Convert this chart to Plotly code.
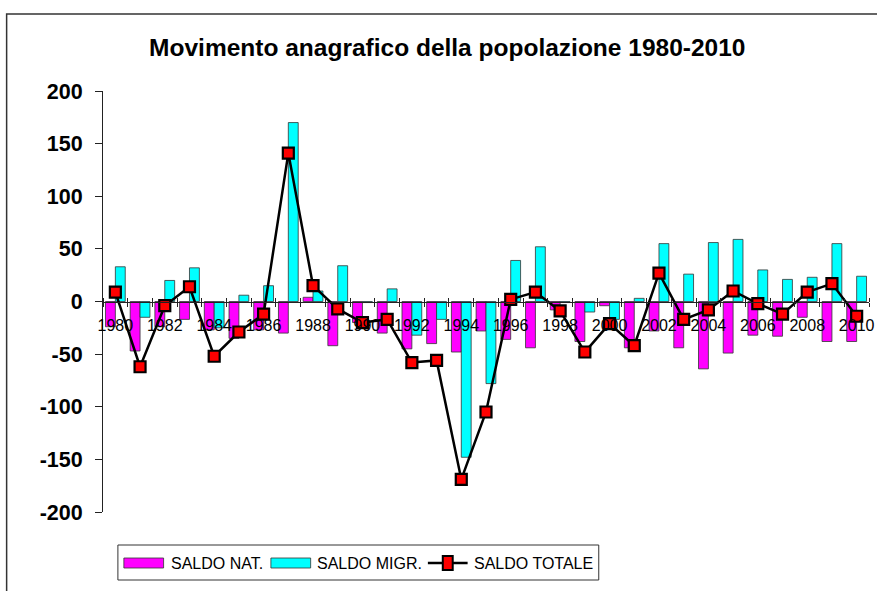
import plotly.graph_objects as go

years = list(range(1980, 2011))
saldo_nat = [-24, -47, -24, -17, -27, -35, -27, -30, 4, -42,
             -20, -30, -45, -40, -48, -28, -36, -44, -8, -38,
             -4, -44, -28, -44, -64, -49, -32, -33, -15, -38, -38]
saldo_migr = [33, -15, 20, 32, -25, 6, 15, 170, 10, 34,
              -1, 12, -32, -17, -148, -78, 39, 52, -1, -10,
              -17, 3, 55, 26, 56, 59, 30, 21, 23, 55, 24]
saldo_totale = [9, -62, -4, 14, -52, -29, -12, 141, 15, -7,
                -20, -17, -58, -56, -169, -105, 2, 9, -9, -48,
                -21, -42, 27, -17, -8, 10, -2, -12, 9, 17, -14]
label_years = years[::2]
y_ticks = [-200, -150, -100, -50, 0, 50, 100, 150, 200]
y_tick_text = ["-200", "-150", "-100", "-50", "0", "50", "100", "150", "200"]
series_names = ["SALDO NAT.", "SALDO MIGR.", "SALDO TOTALE"]
title_text = "Movimento anagrafico della popolazione 1980-2010"

W, H = 877, 591
ML, MR, MT, MB = 103, 3, 91, 79
PW, PH = W - ML - MR, H - MT - MB
FONT = "Liberation Sans, Arial, sans-serif"


def px(x):
    return (x - ML) / PW


def py(y):
    return (H - MB - y) / PH


fig = go.Figure()
fig.add_trace(go.Bar(x=years, y=saldo_nat, name=series_names[0],
                     marker=dict(color="#FF00FF", line=dict(color="#333333", width=0.8)),
                     showlegend=False))
fig.add_trace(go.Bar(x=years, y=saldo_migr, name=series_names[1],
                     marker=dict(color="#00FFFF", line=dict(color="#333333", width=0.8)),
                     showlegend=False))
fig.add_trace(go.Scatter(x=years, y=saldo_totale, name=series_names[2], xaxis="x2",
                         mode="lines+markers",
                         line=dict(color="black", width=2.5),
                         marker=dict(symbol="square", size=11, color="#FF0000",
                                     line=dict(color="black", width=2.2)),
                         showlegend=False))

xr = [1979.5, 2010.5]
bounds = [y - 0.5 for y in years] + [2010.5]

fig.update_layout(
    width=W, height=H,
    margin=dict(l=ML, r=MR, t=MT, b=MB),
    paper_bgcolor="white", plot_bgcolor="white",
    barmode="group", bargap=0.2, bargroupgap=0,
    font=dict(family=FONT, color="black"),
    title=dict(text=title_text, x=0.51, xref="container", xanchor="center",
               y=1 - 47 / H, yref="container", yanchor="middle",
               font=dict(size=24.5, family=FONT, color="black", weight="bold")),
    xaxis=dict(range=xr, anchor="free", position=0.5, showline=True, linecolor="#222222",
               linewidth=1, tickmode="array", tickvals=bounds, ticks="outside", ticklen=4,
               tickcolor="#222222", showticklabels=False, showgrid=False, zeroline=False),
    xaxis2=dict(range=xr, overlaying="x", anchor="free", position=0.5, side="bottom",
                showline=False, tickmode="array", tickvals=label_years,
                ticktext=[str(v) for v in label_years], ticks="", ticklabelstandoff=12,
                ticklabeloverflow="allow",
                tickfont=dict(size=16, family=FONT, color="black"),
                showgrid=False, zeroline=False),
    xaxis3=dict(range=xr, overlaying="x", anchor="free", position=0.5, side="top",
                showline=False, tickmode="array", tickvals=bounds, ticks="outside",
                ticklen=4, tickcolor="#222222", showticklabels=False,
                showgrid=False, zeroline=False),
    yaxis=dict(range=[-200, 200], tickmode="array", tickvals=y_ticks, ticktext=y_tick_text,
               ticks="outside", ticklen=7, tickcolor="#222222", showline=True,
               linecolor="#222222", linewidth=1, showgrid=False, zeroline=False,
               ticklabelstandoff=8,
               tickfont=dict(size=21.5, family=FONT, color="black", weight="bold")),
)

# dummy invisible trace so that the top tick axis is drawn
fig.add_trace(go.Scatter(x=[1980], y=[0], xaxis="x3", mode="markers",
                         marker=dict(opacity=0), hoverinfo="skip", showlegend=False))

shapes = []
# outer chart border
shapes.append(dict(type="rect", xref="paper", yref="paper",
                   x0=px(6), x1=px(W + 20), y0=py(H + 20), y1=py(14),
                   line=dict(color="#333333", width=1.5), fillcolor="rgba(0,0,0,0)", layer="below"))
# legend box
shapes.append(dict(type="rect", xref="paper", yref="paper",
                   x0=px(118), x1=px(602), y0=py(580), y1=py(545),
                   line=dict(color="#333333", width=1), fillcolor="white"))
# legend swatches
shapes.append(dict(type="rect", xref="paper", yref="paper",
                   x0=px(124), x1=px(164), y0=py(568), y1=py(558),
                   line=dict(color="#333333", width=0.8), fillcolor="#FF00FF"))
shapes.append(dict(type="rect", xref="paper", yref="paper",
                   x0=px(272), x1=px(312), y0=py(568), y1=py(558),
                   line=dict(color="#333333", width=0.8), fillcolor="#00FFFF"))
shapes.append(dict(type="line", xref="paper", yref="paper",
                   x0=px(430), x1=px(470), y0=py(563), y1=py(563),
                   line=dict(color="black", width=2.5)))
shapes.append(dict(type="rect", xref="paper", yref="paper",
                   x0=px(445), x1=px(455), y0=py(570), y1=py(556),
                   line=dict(color="black", width=2), fillcolor="#FF0000"))

annotations = []
for xs, txt in [(169, series_names[0]), (316, series_names[1]), (474, series_names[2])]:
    annotations.append(dict(xref="paper", yref="paper", x=px(xs), y=py(563),
                            xanchor="left", yanchor="middle", showarrow=False,
                            text=txt, font=dict(size=16, family=FONT, color="black")))

fig.update_layout(shapes=shapes, annotations=annotations)

fig.write_html("out.html", config={"displayModeBar": False},
               post_script="document.body.style.margin='0';document.body.style.overflow='hidden';")
